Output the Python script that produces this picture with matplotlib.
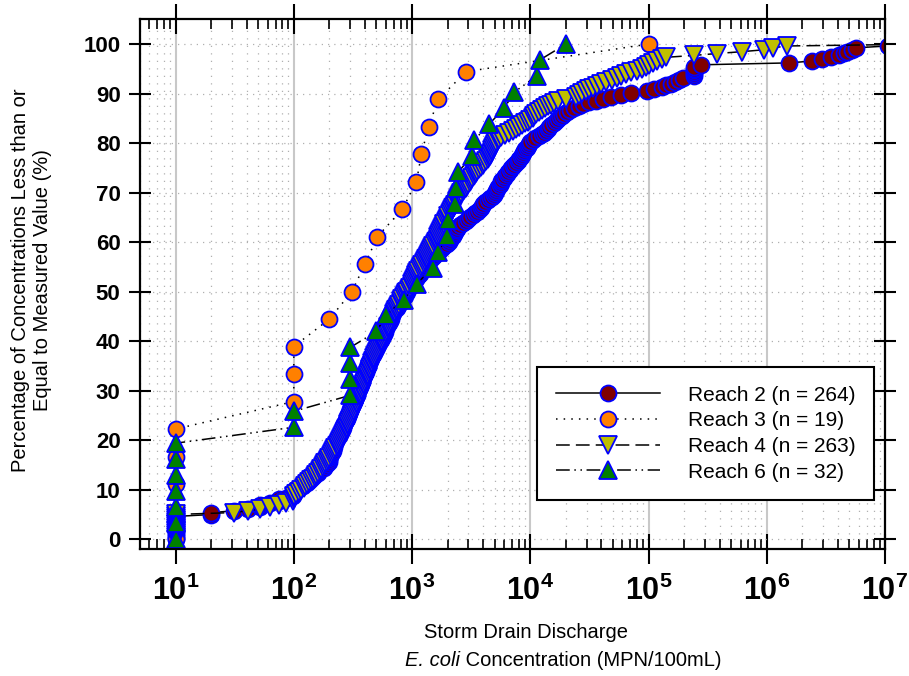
import numpy as np
import matplotlib
matplotlib.use("Agg")
import matplotlib.pyplot as plt
from matplotlib.ticker import FixedLocator, FuncFormatter, LogLocator, NullFormatter

plt.rcParams["font.family"] = ["Liberation Sans", "DejaVu Sans"]
plt.rcParams["mathtext.fontset"] = "custom"
plt.rcParams["mathtext.rm"] = "Liberation Sans"
plt.rcParams["mathtext.it"] = "Liberation Sans:italic"
plt.rcParams["mathtext.bf"] = "Liberation Sans:bold"

# E. coli concentrations (MPN/100mL) per reach
reach2 = ([10] * 13 +
          [20, 20, 31, 41, 52, 52, 63, 75, 75, 86, 98, 100, 100, 100] +
          [110, 120, 121, 130, 134, 140, 146, 150, 160, 160, 171, 180, 185, 190, 199, 200, 200, 210, 213, 220] +
          [203, 208, 213, 220, 225, 228, 233, 238, 243, 248, 252, 256, 259, 263, 268, 272, 275] +
          [280, 284, 288, 292, 296, 300, 304, 309, 313, 318, 322, 327, 331, 336, 340, 345] +
          [350, 356, 362, 368, 374, 380, 386, 392, 398, 404, 410, 416, 422, 428, 436, 445] +
          [452, 462, 471, 480, 490, 500, 510, 520, 530, 540] +
          [548, 556, 565, 576, 585, 595, 605, 615, 625, 637, 648] +
          [660, 670, 680, 695, 705, 720, 740] +
          [760, 780, 800, 820, 840, 865, 880, 900] +
          [913, 930, 961, 990, 1017, 1040, 1071, 1100, 1130, 1160, 1198] +
          [1220, 1250, 1275, 1300, 1354, 1400, 1439, 1500, 1560, 1620] +
          [1700, 1760, 1820, 1900, 1980] +
          [2050, 2100, 2150, 2200, 2250, 2300, 2350, 2400] +
          [2450, 2550, 2700, 2850, 3000] +
          [3100, 3250, 3400, 3550, 3700, 3800, 3900, 4000] +
          [4150, 4350, 4550, 4750, 4950] +
          [5000, 5100, 5200, 5300, 5500, 5600, 5700, 5800, 6000, 6100, 6300] +
          [6500, 6700, 6900, 7100, 7300, 7500, 7800, 8100] +
          [8300, 8500, 8700, 8900, 9100, 9300, 9500, 9800] +
          [10000, 10500, 11000, 11800, 12600] +
          [13000, 13500, 14000, 14500, 15000, 15800, 16600] +
          [17200, 17800, 18500, 19300, 20400] +
          [21500, 23500, 25600, 28000, 31600, 36000, 41000, 48600, 58000, 71000] +
          [98000, 112000, 130000, 141000, 155000, 166000, 180000, 195000] +
          [241960] * 6 +
          [280000, 1550000, 2400000, 2950000, 3500000, 4100000, 4500000, 4800000,
           5300000, 5700000, 10500000, 24000000])

reach3 = [10, 10, 10, 10, 10, 100, 100, 100, 200, 310, 400, 510, 830, 1090, 1200,
          1380, 1670, 2880, 100000]

reach4 = ([10] * 14 +
          [31, 41, 52, 63, 75, 86, 98, 100, 100, 100] +
          [105, 110, 115, 121, 125, 130, 134, 140, 146, 150, 155, 160, 166, 171, 176,
           180, 185, 190, 195, 199, 205] +
          [210, 215, 220, 225, 230, 235, 240, 245, 250, 255, 260, 265, 270, 275, 280,
           285, 290, 295] +
          [300, 305, 310, 315, 320, 325, 330, 335, 340, 345, 350, 355, 360, 365, 370,
           375, 380] +
          [385, 390, 395, 400, 410, 415, 420, 426, 432, 438, 444, 450, 456, 462, 468, 475] +
          [480, 490, 500, 510, 520, 530, 540, 548, 555, 562, 570] +
          [580, 590, 600, 610, 620, 630, 640, 650, 660, 675, 690] +
          [700, 710, 720, 735, 750, 765, 780, 800] +
          [810, 830, 850, 870, 890, 913, 935, 961] +
          [990, 1000, 1017, 1040, 1060, 1071, 1090, 1110, 1130, 1160, 1198] +
          [1220, 1250, 1275, 1300, 1330, 1354, 1380, 1410, 1439, 1470, 1500, 1550, 1600] +
          [1620, 1650, 1670, 1700, 1730, 1760, 1790, 1820, 1850, 1880, 1920, 1960, 2000] +
          [2030, 2080, 2130, 2180, 2230, 2280, 2330, 2380, 2420, 2460, 2500, 2550, 2600] +
          [2680, 2760, 2840, 2920, 3000, 3080, 3160, 3240, 3320, 3400, 3480, 3560] +
          [3700, 3830, 3960, 4090, 4220, 4350, 4470] +
          [4550, 4630, 4710, 4790, 4870, 4950, 5030, 5150, 5300] +
          [5400, 5700, 6100, 6600, 7100, 7600, 8000, 8500, 9000, 9500,
           10000, 10500, 10800, 11200, 11800, 12500, 13200, 14000, 15000, 16000,
           17000, 20000, 24500, 26000, 27500, 29500, 31500, 34000, 37000, 40000,
           43600, 49000, 54500, 58000, 65000, 71500, 80000, 88000, 95500, 100000,
           110000, 118000, 130000, 141000, 241960, 380000, 620000, 950000, 1120000,
           1490000, 24000000])

reach6 = ([10] * 7 + [100, 100] + [300] * 4 +
          [500, 600, 850, 1100, 1500, 1670, 1990, 2000, 2330, 2370, 2460, 3240, 3370,
           4510, 6030, 7350, 11300, 12000, 20000])

labels = ["Reach 2 (n = 264)", "Reach 3 (n = 19)", "Reach 4 (n = 263)", "Reach 6 (n = 32)"]
face_colors = ["#800000", "#ff8000", "#bfbf00", "#008000"]
markers = ["o", "o", "v", "^"]
marker_sizes = [11.5, 11.5, 13, 13]
line_styles = ["-", (0, (1, 4)), (0, (9, 4)), (0, (9, 3, 1, 3, 1, 3))]
y_ticks = list(range(0, 101, 10))
x_decades = [1, 2, 3, 4, 5, 6, 7]


def cumulative_percent(values):
    x = np.sort(np.asarray(values, dtype=float))
    n = len(x)
    y = np.arange(n) / (n - 1) * 100.0
    return x, y


fig = plt.figure(figsize=(9.09, 6.76), dpi=100)
ax = fig.add_axes([0.154, 0.188, 0.8196, 0.7834])

for vals, lab, fc, mk, ms, ls in zip([reach2, reach3, reach4, reach6], labels,
                                     face_colors, markers, marker_sizes, line_styles):
    x, y = cumulative_percent(vals)
    ax.plot(x, y, color="black", lw=1.1, ls=ls, marker=mk, ms=ms,
            mfc=fc, mec="blue", mew=1.3, label=lab)

ax.set_xscale("log")
ax.set_xlim(5, 1e7)
ax.set_ylim(-2, 105)

ax.xaxis.set_major_locator(FixedLocator([10.0 ** d for d in x_decades]))
ax.xaxis.set_minor_locator(LogLocator(base=10, subs=np.arange(2, 10), numticks=20))
ax.xaxis.set_major_formatter(FuncFormatter(
    lambda v, _: r"$\mathbf{10^{%d}}$" % round(np.log10(v))))
ax.xaxis.set_minor_formatter(NullFormatter())
ax.yaxis.set_major_locator(FixedLocator(y_ticks))

for lab in ax.get_yticklabels():
    lab.set_fontweight("bold")
ax.tick_params(axis="y", which="major", labelsize=16, direction="inout",
               length=16, width=1.5, right=True, pad=6)
ax.tick_params(axis="x", which="major", labelsize=22, direction="inout",
               length=22, width=1.5, top=True, pad=8)
ax.tick_params(axis="x", which="minor", direction="in", length=7, width=1.2, top=True)

ax.xaxis.grid(True, which="major", ls="-", color="#c8c8c8", lw=1.5)
ax.xaxis.grid(True, which="minor", ls=(0, (1, 5)), color="#b0b0b0", lw=0.9)
ax.yaxis.grid(True, which="major", ls=(0, (1, 4)), color="#b0b0b0", lw=0.9)
ax.set_axisbelow(True)

for sp in ax.spines.values():
    sp.set_linewidth(1.6)

leg = ax.legend(loc="upper left", bbox_to_anchor=(0.533, 0.3436), fontsize=15,
                frameon=True, fancybox=False, framealpha=1, edgecolor="black",
                handlelength=5.0, handletextpad=1.35, borderpad=0.9, labelspacing=0.32,
                numpoints=1, borderaxespad=0)
leg.get_frame().set_linewidth(1.5)

fig.text(32 / 909, 0.585, "Percentage of Concentrations Less than or\nEqual to Measured Value (%)",
         rotation=90, ha="center", va="center", fontsize=14.5, linespacing=1.2)
fig.text(526 / 909, 1 - 632 / 676, "Storm Drain Discharge", ha="center", va="center",
         fontsize=14.5)

# second x-label line: italic species name followed by regular text, centred as one line
renderer = fig.canvas.get_renderer()
part_a = fig.text(0, 1 - 660 / 676, "E. coli", style="italic", ha="left", va="center",
                  fontsize=14.5)
part_b = fig.text(0, 1 - 660 / 676, " Concentration (MPN/100mL)", ha="left", va="center",
                  fontsize=14.5)
w_a = part_a.get_window_extent(renderer).width
w_b = part_b.get_window_extent(renderer).width
x0 = 563 - (w_a + w_b) / 2
part_a.set_x(x0 / 909)
part_b.set_x((x0 + w_a) / 909)

fig.savefig("out.png", dpi=100)
